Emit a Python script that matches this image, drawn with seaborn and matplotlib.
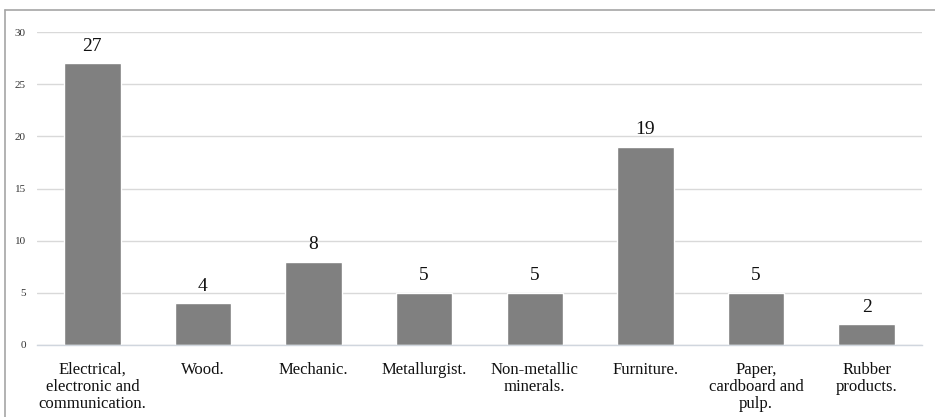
import matplotlib
matplotlib.use("Agg")
import matplotlib.pyplot as plt
import seaborn as sns
import pandas as pd
from matplotlib.lines import Line2D

sectors = [
    "Electrical,\nelectronic and\ncommunication.",
    "Wood.",
    "Mechanic.",
    "Metallurgist.",
    "Non-metallic\nminerals.",
    "Furniture.",
    "Paper,\ncardboard and\npulp.",
    "Rubber\nproducts.",
]
counts = [27, 4, 8, 5, 5, 19, 5, 2]
y_ticks = [0, 5, 10, 15, 20, 25, 30]

df = pd.DataFrame({"sector": sectors, "count": counts})

sns.set_theme(style="white")
plt.rcParams["font.family"] = ["Liberation Serif", "DejaVu Serif"]

fig = plt.figure(figsize=(9.35, 4.17), dpi=100)
ax = fig.add_axes([37 / 935, 1 - 345 / 417, (922 - 37) / 935, (345 - 32) / 417])

sns.barplot(data=df, x="sector", y="count", color="#808080", saturation=1,
            width=0.51, ax=ax, zorder=3)

for bar, val in zip(ax.patches, counts):
    ax.text(bar.get_x() + bar.get_width() / 2, val + 0.8, str(val),
            ha="center", va="bottom", fontsize=14, color="#111111")

ax.set_xlim(-0.5, len(sectors) - 0.5)
ax.set_ylim(0, 30)
ax.set_yticks(y_ticks)
ax.set_yticklabels([str(t) for t in y_ticks], fontsize=8, color="#333333")
ax.tick_params(axis="y", length=0, pad=8)
ax.tick_params(axis="x", length=0, pad=12, labelsize=12, labelcolor="#111111")
for lab in ax.get_xticklabels():
    lab.set_linespacing(1.1)
ax.set_xlabel("")
ax.set_ylabel("")
ax.yaxis.grid(True, color="#d9d9d9", linewidth=1)
ax.set_axisbelow(True)
for side in ["top", "right", "left"]:
    ax.spines[side].set_visible(False)
ax.spines["bottom"].set_color("#d0d6de")
ax.spines["bottom"].set_linewidth(1)
ax.spines["bottom"].set_zorder(4)

# chart frame (left and top edges)
frame_color = "#a6a6a6"
fig.add_artist(Line2D([5 / 935, 5 / 935], [0, 1 - 10 / 417],
                      transform=fig.transFigure, color=frame_color, linewidth=1.2))
fig.add_artist(Line2D([5 / 935, 1], [1 - 10 / 417, 1 - 10 / 417],
                      transform=fig.transFigure, color=frame_color, linewidth=1.2))

fig.savefig("out.png", dpi=100, facecolor="white")
